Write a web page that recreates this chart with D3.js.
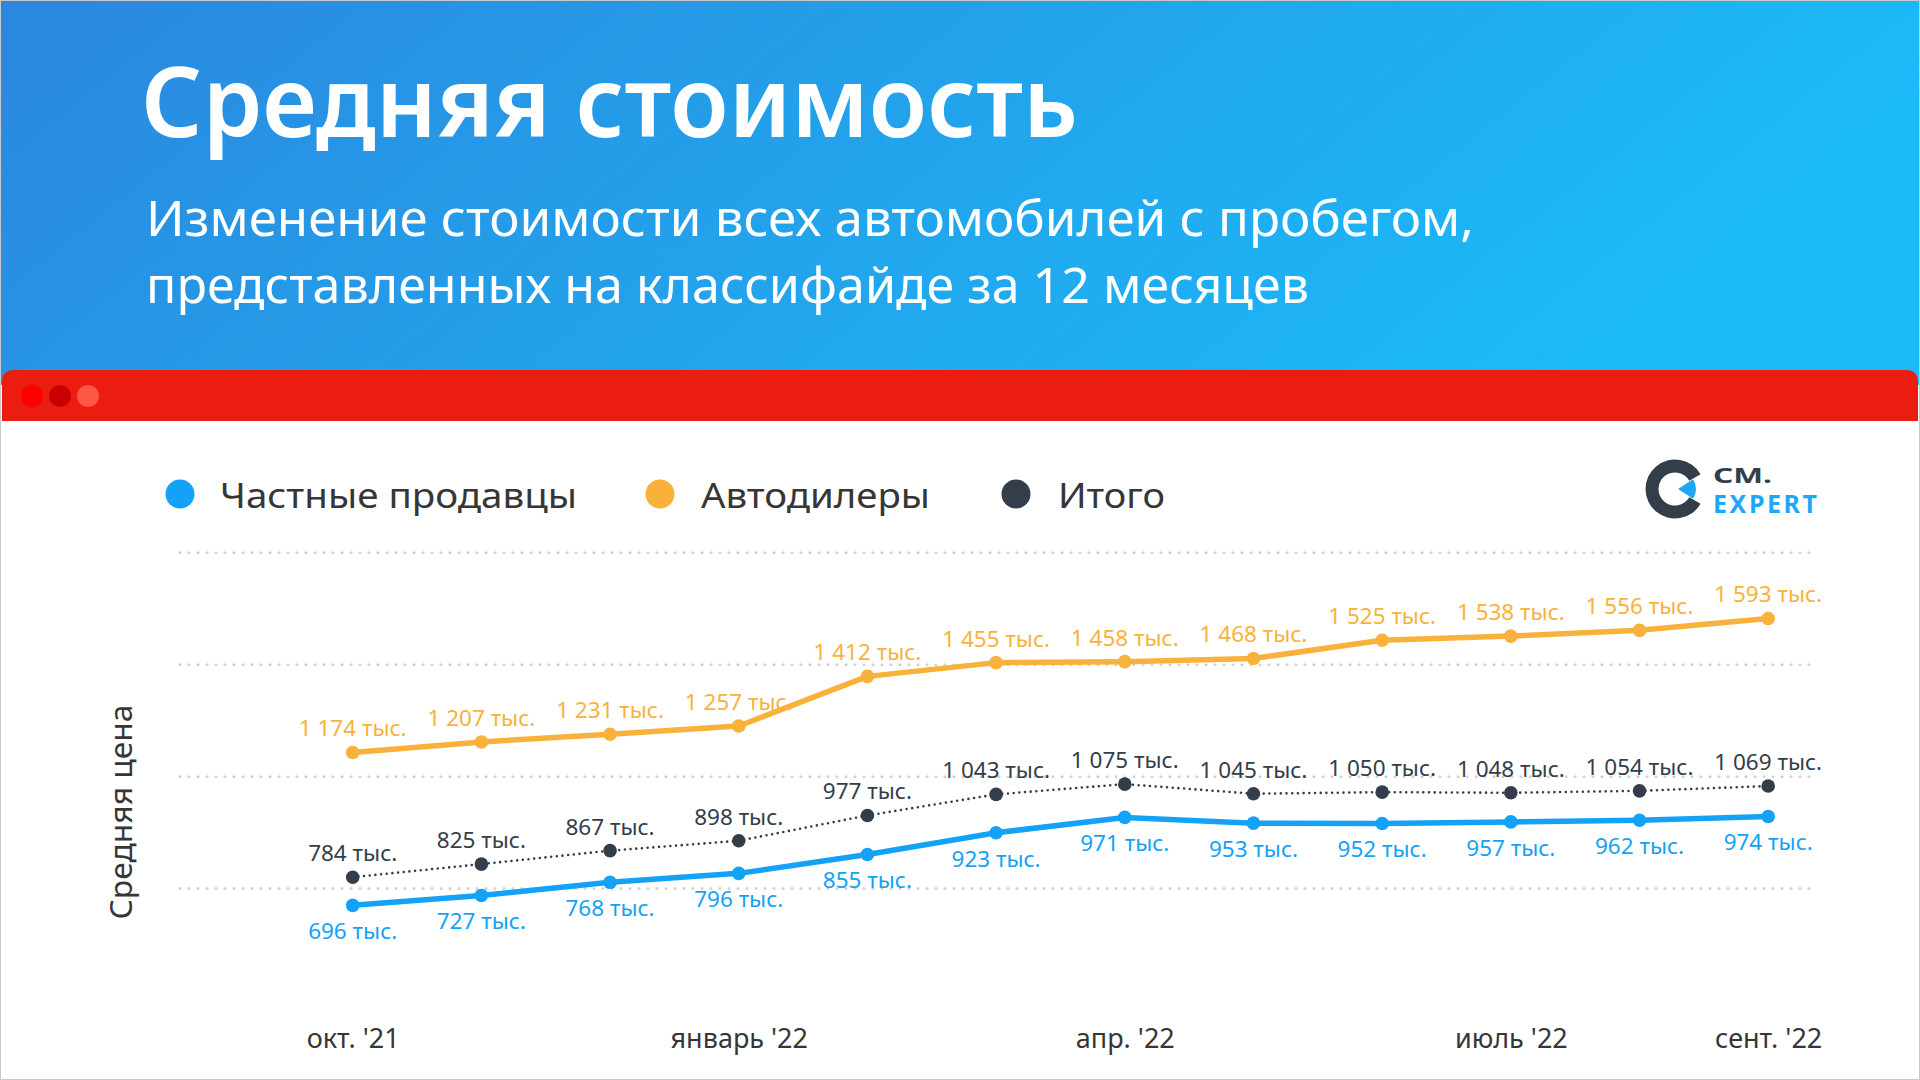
<!DOCTYPE html>
<html><head><meta charset="utf-8">
<script src="https://cdn.jsdelivr.net/npm/d3@7"></script>
<style>
html,body{margin:0;padding:0;background:#fff;overflow:hidden}
svg{display:block}
text{font-family:'Noto Sans','Open Sans',sans-serif}
</style>
</head><body>
<svg id="c" width="1920" height="1080"></svg>
<script>
// ---------- DATA ----------
const months = ["окт. '21","нояб. '21","дек. '21","январь '22","февр. '22","март '22","апр. '22","май '22","июнь '22","июль '22","авг. '22","сент. '22"];
const tickLabels = ["окт. '21","январь '22","апр. '22","июль '22","сент. '22"];
const privateSellers = [696,727,768,796,855,923,971,953,952,957,962,974];
const dealers = [1174,1207,1231,1257,1412,1455,1458,1468,1525,1538,1556,1593];
const total = [784,825,867,898,977,1043,1075,1045,1050,1048,1054,1069];
const gridValues = [750,1100,1450,1800];
const seriesNames = ["Частные продавцы","Автодилеры","Итого"];
const titleText = "Средняя стоимость";
const subtitleLines = ["Изменение стоимости всех автомобилей с пробегом,","представленных на классифайде за 12 месяцев"];
const yAxisTitle = "Средняя цена";
const unitSuffix = " тыс.";

// ---------- STYLE ----------
const C_BLUE = "#14a2f6", C_ORANGE = "#f8b23c", C_DARK = "#333e4a", C_TEXT = "#363636";

const svg = d3.select("#c");
const defs = svg.append("defs");
const grad = defs.append("linearGradient").attr("id","hdr")
  .attr("x1","0").attr("y1","0").attr("x2","1").attr("y2","0.25");
grad.append("stop").attr("offset","0").attr("stop-color","#2b87de");
grad.append("stop").attr("offset","0.55").attr("stop-color","#22a4ec");
grad.append("stop").attr("offset","1").attr("stop-color","#1bbaf9");

svg.append("rect").attr("width",1920).attr("height",1080).attr("fill","#fff");
svg.append("rect").attr("width",1920).attr("height",385).attr("fill","url(#hdr)");

// Header texts
svg.append("text").attr("x",141).attr("y",137).attr("fill","#fff")
  .attr("font-size",97).attr("font-weight",600)
  .attr("textLength",937).attr("lengthAdjust","spacingAndGlyphs")
  .text(titleText);
const subW = [1328, 1163];
const subY = [236, 303];
subtitleLines.forEach((t,i)=>{
  svg.append("text").attr("x",146).attr("y",subY[i]).attr("fill","#fff")
    .attr("font-size",50).attr("font-weight",400)
    .attr("textLength",subW[i]).attr("lengthAdjust","spacingAndGlyphs")
    .text(t);
});

// Red bar
svg.append("path").attr("d","M2,421 V382 Q2,370 14,370 H1906 Q1918,370 1918,382 V421 Z").attr("fill","#eb1d11");
[["#ff0000",32],["#c90000",60],["#ff5745",88]].forEach(([c,cx])=>{
  svg.append("circle").attr("cx",cx).attr("cy",396).attr("r",11).attr("fill",c);
});

// Border
svg.append("rect").attr("x",0.5).attr("y",0.5).attr("width",1919).attr("height",1079)
  .attr("fill","none").attr("stroke","#c9c9c9").attr("stroke-width",1);

// Legend
const legColors = [C_BLUE, C_ORANGE, C_DARK];
const legCx = [180, 660, 1016], legTx = [220, 701, 1058], legW = [357, 229, 107];
seriesNames.forEach((n,i)=>{
  svg.append("circle").attr("cx",legCx[i]).attr("cy",494).attr("r",14.5).attr("fill",legColors[i]);
  svg.append("text").attr("x",legTx[i]).attr("y",508).attr("fill",C_TEXT)
    .attr("font-size",35).attr("textLength",legW[i]).attr("lengthAdjust","spacingAndGlyphs").text(n);
});

// Logo
const logo = svg.append("g").attr("transform","translate(1675,489)");
logo.append("path").attr("fill",C_DARK)
  .attr("d", d3.arc().innerRadius(16.5).outerRadius(29.5).startAngle(Math.PI*2/3).endAngle(Math.PI/3+Math.PI*2)());
logo.append("path").attr("fill","#1ea7f5").attr("transform","translate(3,0)")
  .attr("d", d3.arc().innerRadius(0).outerRadius(18).startAngle(Math.PI/2-0.58).endAngle(Math.PI/2+0.58)());
svg.append("text").attr("x",1713).attr("y",483).attr("fill",C_DARK).attr("font-size",22).attr("font-weight",700)
  .attr("textLength",59).attr("lengthAdjust","spacingAndGlyphs").text("CM.");
svg.append("text").attr("x",1713).attr("y",513).attr("fill","#1ea7f5").attr("font-size",25).attr("font-weight",700)
  .attr("textLength",104).attr("lengthAdjust","spacing").text("EXPERT");

// Scales
const x = d3.scalePoint().domain(months).range([352.7, 1768.2]);
const y = d3.scaleLinear().domain([400, 1800]).range([1000, 552.3]);

// Grid
const gridG = svg.append("g").attr("transform","translate(180,0)")
  .call(d3.axisLeft(y).tickValues(gridValues).tickSize(-1632).tickFormat(""));
gridG.select(".domain").remove();
gridG.selectAll(".tick line").attr("stroke","#d2d2d2").attr("stroke-width",3)
  .attr("stroke-dasharray","0 9").attr("stroke-linecap","round");

// Y axis title
svg.append("text").attr("transform","translate(132,812) rotate(-90)").attr("text-anchor","middle")
  .attr("fill",C_TEXT).attr("font-size",30).attr("textLength",215).attr("lengthAdjust","spacingAndGlyphs")
  .text(yAxisTitle);

// X axis
const xg = svg.append("g").attr("transform","translate(0,1048)")
  .call(d3.axisBottom(x).tickValues(tickLabels).tickSize(0).tickPadding(0));
xg.select(".domain").remove();
xg.selectAll("text").attr("y",0).attr("dy",null).attr("fill",C_TEXT)
  .attr("font-size",27).style("font-family","'Noto Sans',sans-serif");

// Data labels
const fmt = d3.formatLocale({decimal:",",thousands:" ",grouping:[3],currency:["",""]}).format(",");
function labels(data, color, dy){
  svg.append("g").selectAll("text").data(data).join("text")
    .attr("x",(d,i)=>x(months[i])).attr("y",d=>y(d)+dy)
    .attr("text-anchor","middle").attr("fill",color).attr("font-size",22.5)
    .text(d=>fmt(d)+unitSuffix);
}
labels(dealers, C_ORANGE, -16);
labels(total, C_DARK, -16);
labels(privateSellers, C_BLUE, 34);

// Lines
const line = d3.line().x((d,i)=>x(months[i])).y(d=>y(d));
svg.append("path").datum(dealers).attr("d",line).attr("fill","none").attr("stroke",C_ORANGE).attr("stroke-width",5.5).attr("stroke-linejoin","round");
svg.append("path").datum(total).attr("d",line).attr("fill","none").attr("stroke",C_DARK).attr("stroke-width",2.6)
  .attr("stroke-dasharray","0 5.7").attr("stroke-linecap","round");
svg.append("path").datum(privateSellers).attr("d",line).attr("fill","none").attr("stroke",C_BLUE).attr("stroke-width",5.5).attr("stroke-linejoin","round");

function dots(data,color){
  svg.append("g").selectAll("circle").data(data).join("circle")
    .attr("cx",(d,i)=>x(months[i])).attr("cy",d=>y(d)).attr("r",6.8).attr("fill",color);
}
dots(dealers, C_ORANGE);
dots(total, C_DARK);
dots(privateSellers, C_BLUE);
</script>
</body></html>
